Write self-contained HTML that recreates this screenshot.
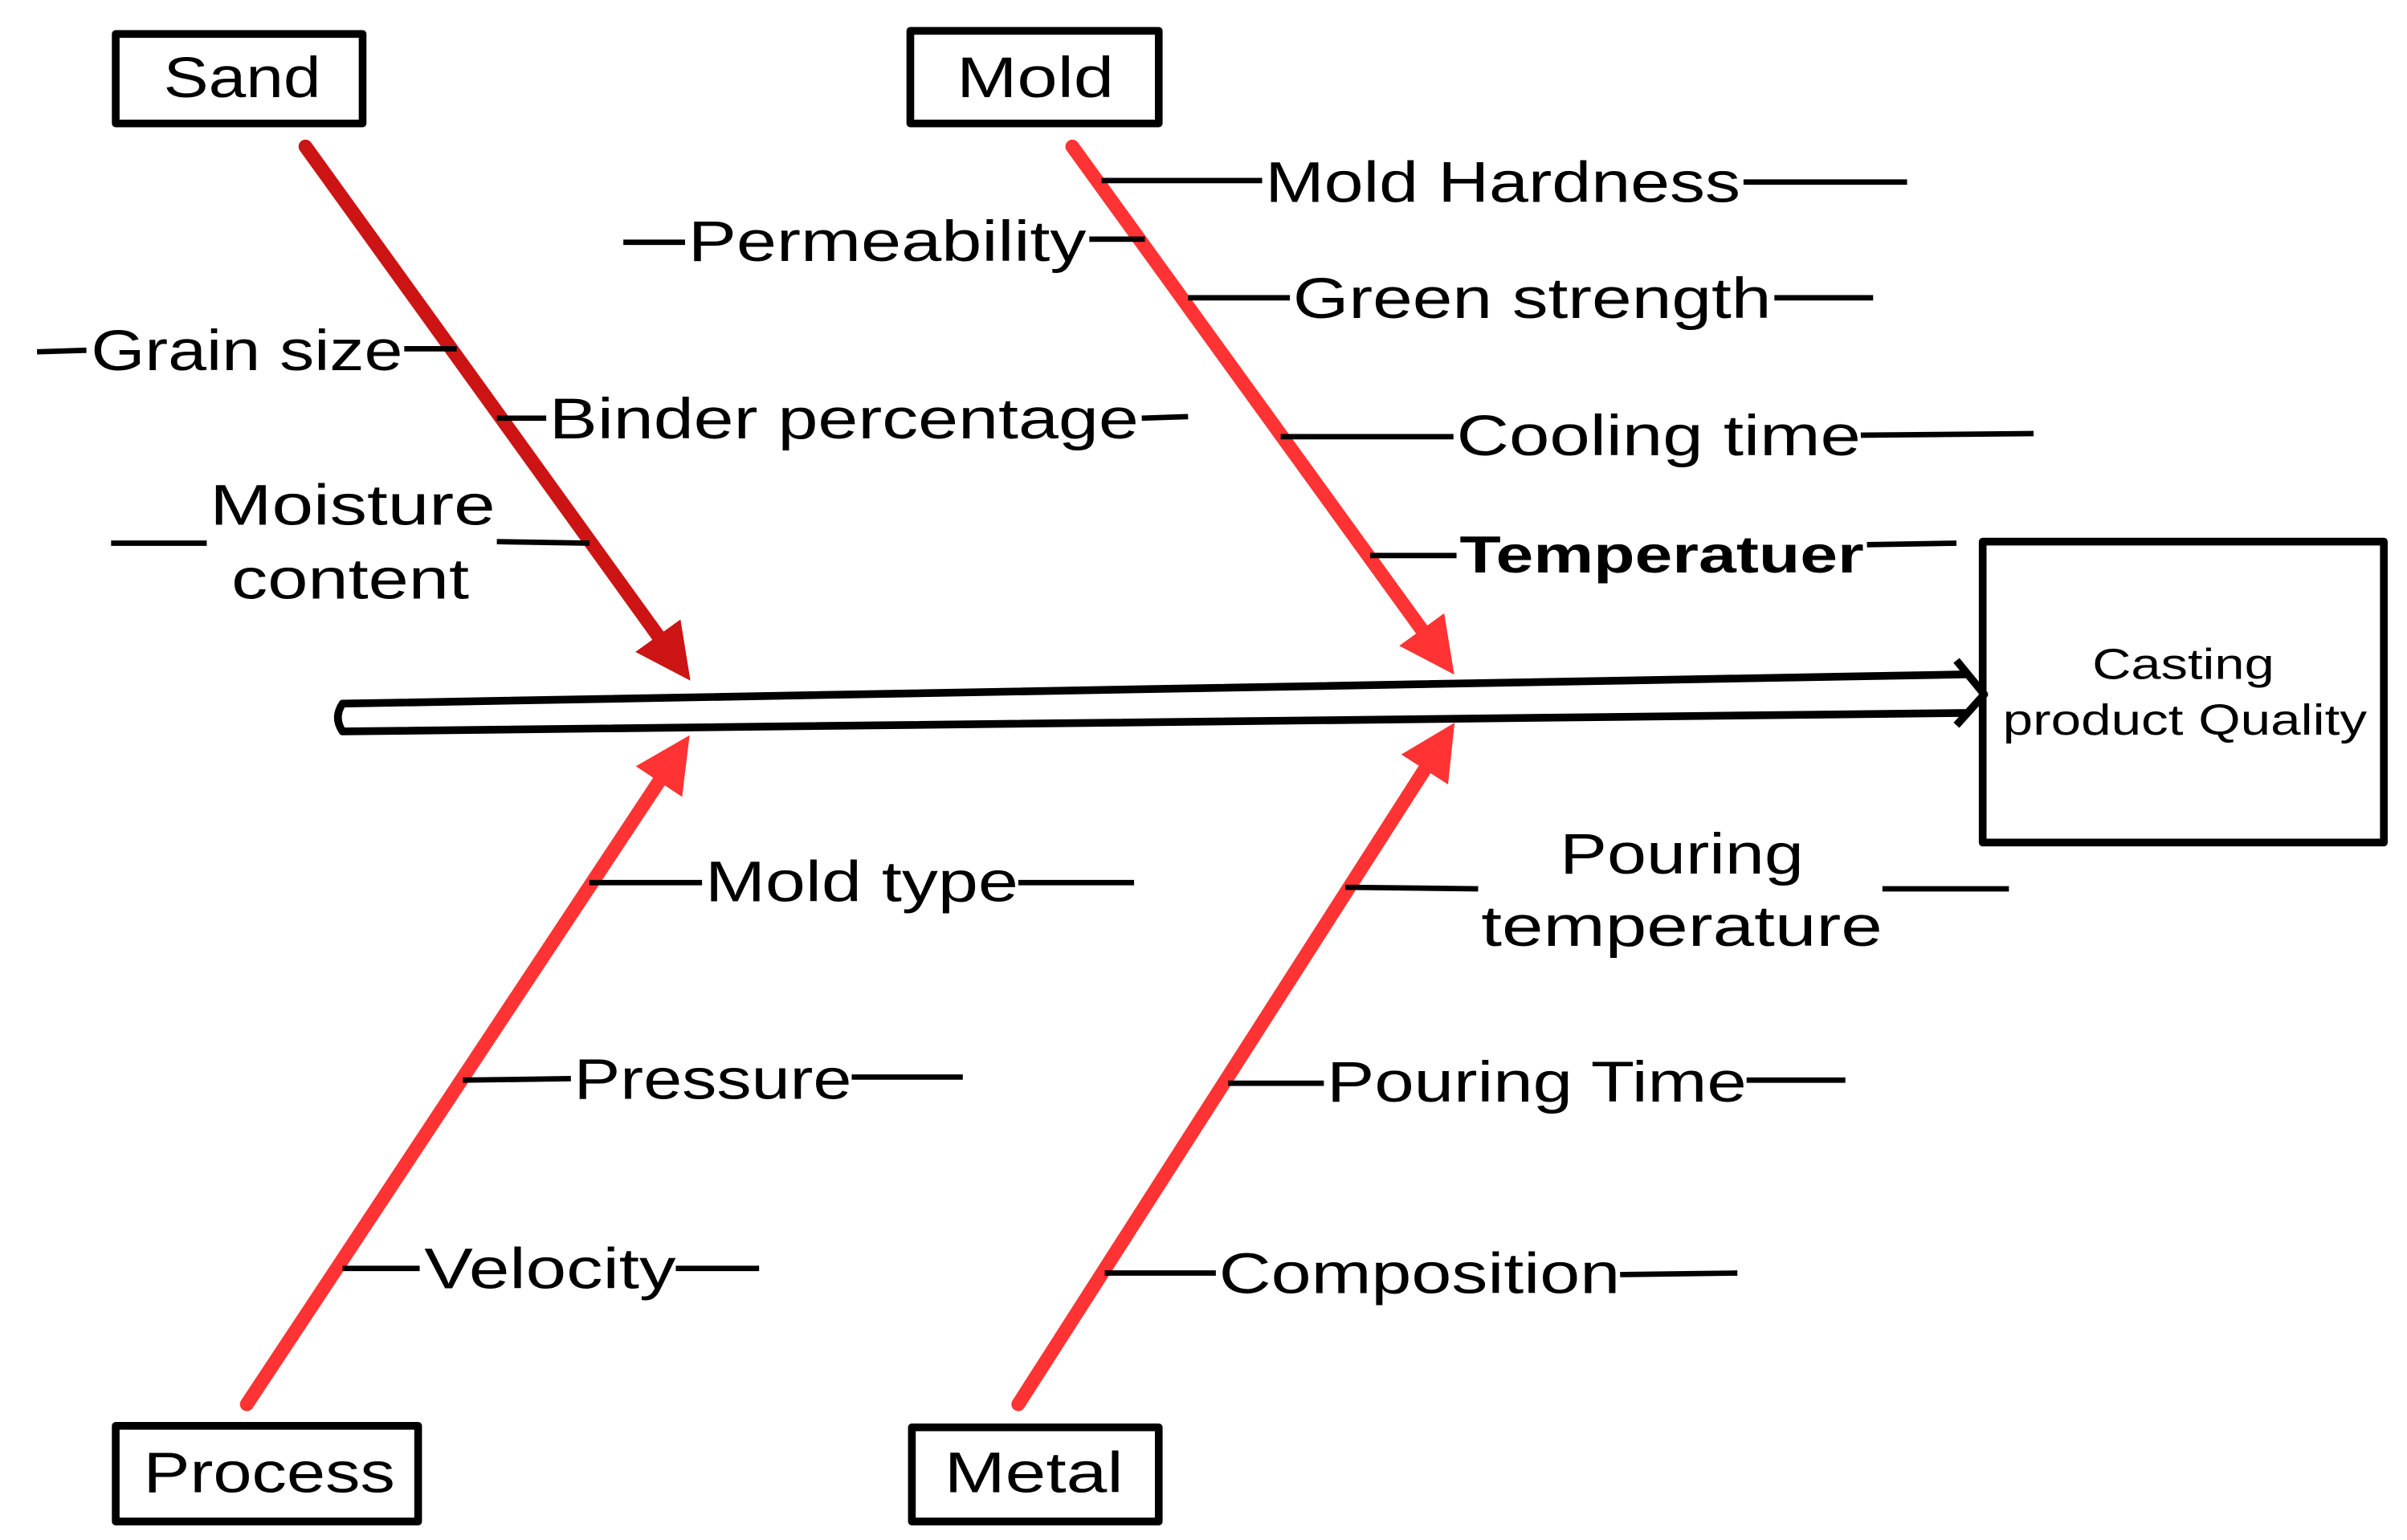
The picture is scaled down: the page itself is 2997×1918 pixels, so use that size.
<!DOCTYPE html>
<html><head><meta charset="utf-8"><style>
html,body{margin:0;padding:0;background:#fff;}
svg{display:block;}
text{font-family:"Liberation Sans",sans-serif;fill:#000;}
</style></head><body>
<svg width="2997" height="1918" viewBox="0 0 1560 998" preserveAspectRatio="none" xmlns="http://www.w3.org/2000/svg">
<defs>
<marker id="ad" markerWidth="4" markerHeight="4" refX="2.2" refY="2" orient="auto" markerUnits="strokeWidth"><path d="M0,0 L4,2 L0,4 z" fill="#cc1414"/></marker>
<marker id="ar" markerWidth="4" markerHeight="4" refX="2.2" refY="2" orient="auto" markerUnits="strokeWidth"><path d="M0,0 L4,2 L0,4 z" fill="#ff3333"/></marker>
</defs>
<g fill="none" stroke="#000" stroke-width="5" stroke-linejoin="round">
<rect x="75" y="22" width="160" height="58"/>
<rect x="590" y="20" width="161" height="60"/>
<rect x="75" y="924" width="196" height="62"/>
<rect x="591" y="925" width="160" height="61"/>
<rect x="1285" y="351" width="260" height="195"/>
<path d="M1276,437 L222,456 Q216,465 222,474 L1276,462"/>
<path d="M1268,428 L1286,450 L1268,470"/>
</g>
<g stroke-width="9" stroke-linecap="round">
<line x1="198" y1="95" x2="438" y2="428" stroke="#cc1414" marker-end="url(#ad)"/>
<line x1="695" y1="95" x2="933" y2="424" stroke="#ff3333" marker-end="url(#ar)"/>
<line x1="160" y1="910" x2="438" y2="490" stroke="#ff3333" marker-end="url(#ar)"/>
<line x1="660" y1="910" x2="934" y2="482" stroke="#ff3333" marker-end="url(#ar)"/>
</g>
<g stroke="#000" stroke-width="3.5">
<line x1="24" y1="228" x2="56" y2="227"/><line x1="262" y1="226" x2="296" y2="226"/>
<line x1="322" y1="271" x2="354" y2="271"/><line x1="740" y1="271" x2="770" y2="270"/>
<line x1="72" y1="352" x2="134" y2="352"/><line x1="322" y1="351" x2="382" y2="352"/>
<line x1="714" y1="117" x2="818" y2="117"/><line x1="1130" y1="118" x2="1236" y2="118"/>
<line x1="404" y1="157" x2="444" y2="157"/><line x1="706" y1="155" x2="742" y2="155"/>
<line x1="770" y1="193" x2="836" y2="193"/><line x1="1150" y1="193" x2="1214" y2="193"/>
<line x1="830" y1="283" x2="942" y2="283"/><line x1="1206" y1="282" x2="1318" y2="281"/>
<line x1="888" y1="360" x2="944" y2="360"/><line x1="1210" y1="353" x2="1268" y2="352"/>
<line x1="382" y1="572" x2="455" y2="572"/><line x1="660" y1="572" x2="735" y2="572"/>
<line x1="300" y1="700" x2="370" y2="699"/><line x1="552" y1="698" x2="624" y2="698"/>
<line x1="222" y1="822" x2="272" y2="822"/><line x1="438" y1="822" x2="492" y2="822"/>
<line x1="872" y1="575" x2="958" y2="576"/><line x1="1220" y1="576" x2="1302" y2="576"/>
<line x1="796" y1="702" x2="858" y2="702"/><line x1="1132" y1="700" x2="1196" y2="700"/>
<line x1="716" y1="825" x2="788" y2="825"/><line x1="1050" y1="826" x2="1126" y2="825"/>
</g>
<g font-size="37" lengthAdjust="spacingAndGlyphs">
<text x="106" y="63" textLength="102" lengthAdjust="spacingAndGlyphs">Sand</text>
<text x="620" y="63" textLength="102" lengthAdjust="spacingAndGlyphs">Mold</text>
<text x="93" y="967" textLength="163" lengthAdjust="spacingAndGlyphs">Process</text>
<text x="612" y="967" textLength="116" lengthAdjust="spacingAndGlyphs">Metal</text>
<text x="59" y="240" textLength="202" lengthAdjust="spacingAndGlyphs">Grain size</text>
<text x="356" y="284" textLength="382" lengthAdjust="spacingAndGlyphs">Binder percentage</text>
<text x="136" y="340" textLength="185" lengthAdjust="spacingAndGlyphs">Moisture</text>
<text x="150" y="388" textLength="154" lengthAdjust="spacingAndGlyphs">content</text>
<text x="820" y="131" textLength="308" lengthAdjust="spacingAndGlyphs">Mold Hardness</text>
<text x="446" y="169" textLength="258" lengthAdjust="spacingAndGlyphs">Permeability</text>
<text x="838" y="206" textLength="310" lengthAdjust="spacingAndGlyphs">Green strength</text>
<text x="944" y="295" textLength="262" lengthAdjust="spacingAndGlyphs">Cooling time</text>
<text x="946" y="371" font-weight="bold" font-size="34" textLength="262" lengthAdjust="spacingAndGlyphs">Temperatuer</text>
<text x="457" y="584" textLength="203" lengthAdjust="spacingAndGlyphs">Mold type</text>
<text x="372" y="712" textLength="180" lengthAdjust="spacingAndGlyphs">Pressure</text>
<text x="275" y="835" textLength="163" lengthAdjust="spacingAndGlyphs">Velocity</text>
<text x="1011" y="566" textLength="158" lengthAdjust="spacingAndGlyphs">Pouring</text>
<text x="960" y="613" textLength="260" lengthAdjust="spacingAndGlyphs">temperature</text>
<text x="860" y="714" textLength="272" lengthAdjust="spacingAndGlyphs">Pouring Time</text>
<text x="790" y="838" textLength="260" lengthAdjust="spacingAndGlyphs">Composition</text>
</g>
<g font-size="28">
<text x="1356" y="440" textLength="118" lengthAdjust="spacingAndGlyphs">Casting</text>
<text x="1298" y="476" textLength="236" lengthAdjust="spacingAndGlyphs">product Quality</text>
</g>
</svg>
</body></html>
